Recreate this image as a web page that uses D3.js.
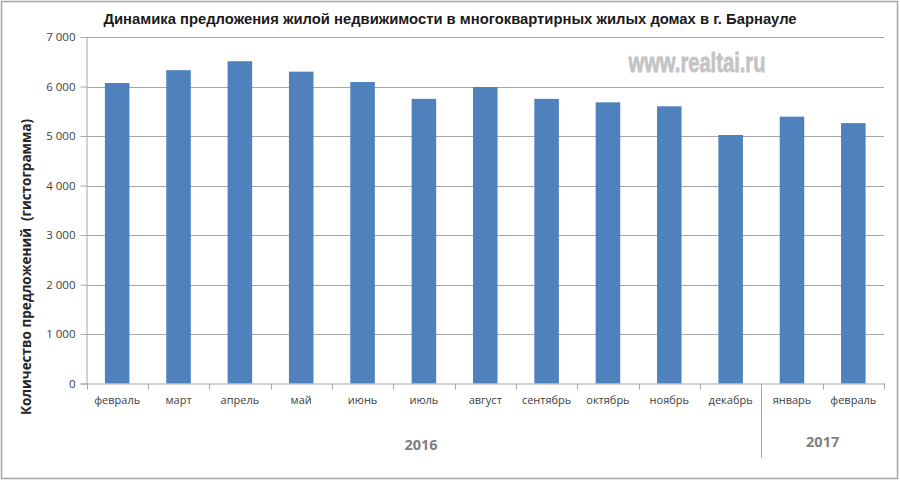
<!DOCTYPE html>
<html><head><meta charset="utf-8">
<script src="https://cdn.jsdelivr.net/npm/d3@7"></script>
<style>body{margin:0;background:#fff}svg{display:block}</style>
</head><body>
<svg id="c" width="900" height="481"></svg>
<script>
const categories = ["февраль","март","апрель","май","июнь","июль","август","сентябрь","октябрь","ноябрь","декабрь","январь","февраль"];
const values = [6070, 6330, 6510, 6300, 6090, 5750, 5990, 5750, 5680, 5600, 5020, 5390, 5260];
const yTicks = [0,1000,2000,3000,4000,5000,6000,7000];
const years = [{label:"2016", from:0, to:10}, {label:"2017", from:11, to:12}];
const title = "Динамика предложения жилой недвижимости в многоквартирных жилых домах в г. Барнауле";
const yTitle = "Количество предложений\u00a0 (гистограмма)";
const watermark = "www.realtai.ru";

const svg = d3.select("#c");
const L = 86.5, R = 884, T = 37, B = 383.5;
const x = d3.scaleBand().domain(d3.range(categories.length)).range([L, R]).paddingInner(0.6).paddingOuter(0.3);
const xb = d3.scaleBand().domain(d3.range(categories.length)).range([L, R]);
const y = d3.scaleLinear().domain([0, 7000]).range([B, T]);
const grid = "#a6a6a6";

// frame
svg.append("rect").attr("x",1.5).attr("y",1.5).attr("width",896).attr("height",477)
  .attr("fill","none").attr("stroke","#a6a6a6").attr("stroke-width",1.5);

// gridlines
svg.append("g").selectAll("line").data(yTicks.filter(d=>d>0)).join("line")
  .attr("x1",L).attr("x2",R).attr("y1",d=>Math.round(y(d))+0.5).attr("y2",d=>Math.round(y(d))+0.5)
  .attr("stroke",grid).attr("stroke-width",1);

// y axis
const ya = svg.append("g").attr("transform",`translate(${L},0)`)
  .call(d3.axisLeft(y).tickValues(yTicks).tickSize(6).tickPadding(5)
    .tickFormat(d=>d3.format(",")(d).replace(/,/g," ")));
ya.select(".domain").attr("stroke",grid);
ya.selectAll(".tick line").attr("stroke",grid);
ya.selectAll(".tick text").attr("font-family","'Open Sans', 'DejaVu Sans', sans-serif").attr("font-size",11.5).attr("fill","#404040");

// bars
svg.append("g").selectAll("rect").data(values).join("rect")
  .attr("x",(d,i)=>x(i)).attr("width",x.bandwidth())
  .attr("y",d=>y(d)).attr("height",d=>B-y(d))
  .attr("fill","#4f81bd");

// x axis
const xa = svg.append("g").attr("transform",`translate(0,${B})`)
  .call(d3.axisBottom(xb).tickSize(0).tickPadding(13).tickFormat(i=>categories[i]));
xa.select(".domain").attr("stroke",grid);
xa.selectAll(".tick text").attr("font-family","'Open Sans', 'DejaVu Sans', sans-serif").attr("font-size",11).attr("fill","#404040");
// boundary ticks
const bounds = d3.range(categories.length+1).map(i=> i<categories.length ? xb(i) : R);
svg.append("g").selectAll("line").data(bounds).join("line")
  .attr("x1",d=>Math.round(d)+0.5).attr("x2",d=>Math.round(d)+0.5)
  .attr("y1",B).attr("y2",B+6).attr("stroke",grid);
// year separator
svg.append("line").attr("x1",Math.round(xb(11))+0.5).attr("x2",Math.round(xb(11))+0.5)
  .attr("y1",B).attr("y2",458).attr("stroke",grid);

// year labels
const ySep = [450, 447];
svg.append("g").selectAll("text").data(years).join("text")
  .attr("x",d=> d.label==="2016" ? 421 : (xb(d.from)+xb(d.to)+xb.bandwidth())/2)
  .attr("y",(d,i)=>ySep[i]).attr("text-anchor","middle")
  .attr("font-family","'Open Sans', 'Liberation Sans', sans-serif").attr("font-weight","bold")
  .attr("font-size",14.5).attr("fill","#808080").text(d=>d.label);

// title
svg.append("text").attr("x",450).attr("y",24).attr("text-anchor","middle")
  .attr("font-family","'Liberation Sans','Arial',sans-serif")
  .attr("font-weight","bold").attr("font-size",14.8).attr("fill","#1a1a1a").text(title);

// y title
svg.append("text").attr("transform","translate(31,267) rotate(-90)").attr("text-anchor","middle")
  .attr("font-family","'Open Sans','DejaVu Sans',sans-serif").attr("font-weight","bold")
  .attr("font-size",13.5).attr("fill","#262626").text(yTitle);

// watermark
svg.append("text").attr("transform","translate(697,72) scale(0.72,1)").attr("text-anchor","middle")
  .attr("font-family","'Liberation Sans','Arial',sans-serif").attr("font-weight","bold")
  .attr("font-size",28).attr("fill","#c4c4c4").attr("stroke","#c4c4c4").attr("stroke-width",0.8).text(watermark);
</script>
</body></html>
